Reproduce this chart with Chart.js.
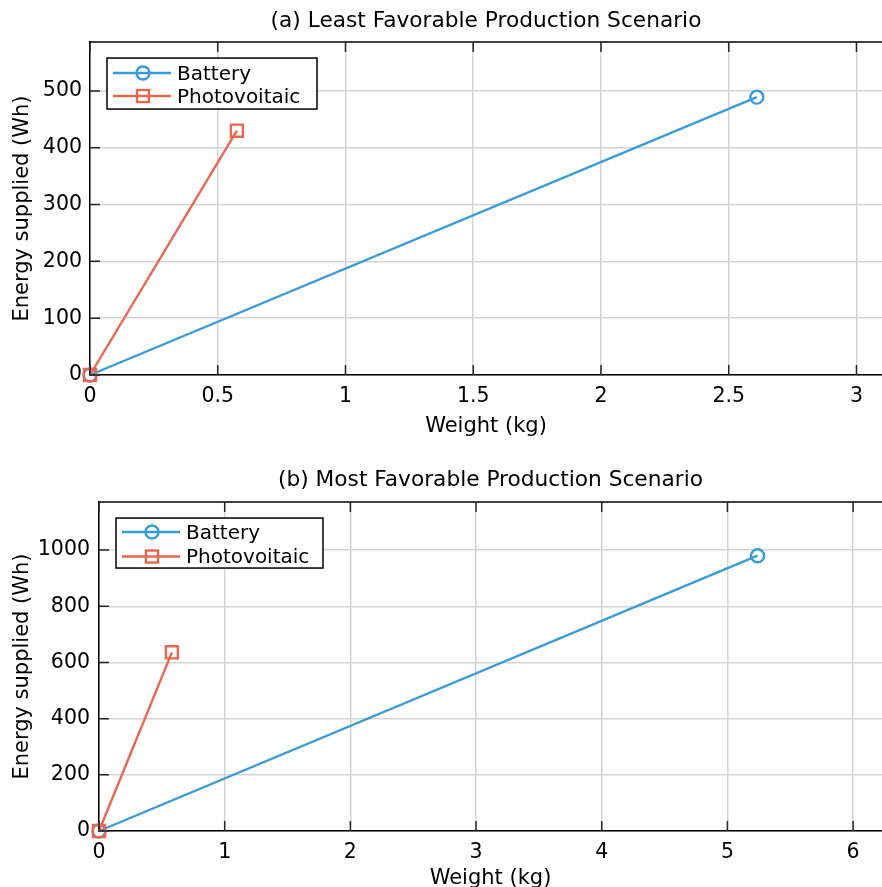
<!DOCTYPE html>
<html><head><meta charset="utf-8">
<script src="https://cdn.jsdelivr.net/npm/chart.js@4/dist/chart.umd.min.js"></script>
<style>
html,body{margin:0;padding:0;overflow:hidden;background:#fff;width:882px;height:887px}
#c1{position:absolute;left:0;top:0}
#c2{position:absolute;left:0;top:450px}
</style></head><body>
<canvas id="c1" width="882" height="450"></canvas>
<canvas id="c2" width="882" height="460"></canvas>
<script>
// ---- data ----
const seriesNames = ['Battery', 'Photovoitaic'];
const panelTitles = ['(a) Least Favorable Production Scenario', '(b) Most Favorable Production Scenario'];
const xLabel = 'Weight (kg)';
const yLabel = 'Energy supplied (Wh)';

// Panel (a)
const aBatteryWeight = [0, 2.61];
const aBatteryEnergy = [0, 489];
const aPvWeight = [0, 0.575];
const aPvEnergy = [0, 430];
const aXTicks = [0, 0.5, 1, 1.5, 2, 2.5, 3];
const aYTicks = [0, 100, 200, 300, 400, 500];

// Panel (b)
const bBatteryWeight = [0, 5.24];
const bBatteryEnergy = [0, 980];
const bPvWeight = [0, 0.58];
const bPvEnergy = [0, 636];
const bXTicks = [0, 1, 2, 3, 4, 5, 6];
const bYTicks = [0, 200, 400, 600, 800, 1000];

// ---- style ----
const BLUE = '#3b9bd5';
const RED = '#e8674f';
const GRID = '#d5d5d5';
const TXT = '#000000';
const FAMILY = "'DejaVu Sans', 'Liberation Sans', sans-serif";

const frameAndTicks = {
  id: 'frameAndTicks',
  afterDatasetsDraw(chart) {
    const ctx = chart.ctx, a = chart.chartArea;
    const xs = chart.scales.x, ys = chart.scales.y;
    ctx.save();
    ctx.strokeStyle = '#000';
    ctx.lineWidth = 1.5;
    ctx.beginPath();
    ctx.moveTo(a.left, a.top); ctx.lineTo(a.right, a.top);
    ctx.stroke();
    ctx.strokeStyle = '#262626';
    ctx.beginPath();
    xs.ticks.forEach(t => {
      const px = xs.getPixelForValue(t.value);
      ctx.moveTo(px, a.bottom); ctx.lineTo(px, a.bottom - 10);
      ctx.moveTo(px, a.top); ctx.lineTo(px, a.top + 10);
    });
    ys.ticks.forEach(t => {
      const py = ys.getPixelForValue(t.value);
      ctx.moveTo(a.left, py); ctx.lineTo(a.left + 10, py);
    });
    ctx.stroke();
    ctx.restore();
  }
};

const boxLegend = {
  id: 'boxLegend',
  afterDraw(chart, args, opts) {
    const ctx = chart.ctx, a = chart.chartArea;
    const L = a.left + opts.dx, T = a.top + opts.dy;
    ctx.save();
    ctx.fillStyle = '#fff';
    ctx.fillRect(L, T, opts.w, opts.h);
    ctx.strokeStyle = '#000';
    ctx.lineWidth = 1.5;
    ctx.strokeRect(L, T, opts.w, opts.h);
    chart.data.datasets.forEach((ds, i) => {
      const y = T + opts.rows[i];
      ctx.strokeStyle = ds.borderColor;
      ctx.lineWidth = ds.borderWidth;
      ctx.beginPath();
      ctx.moveTo(L + 6, y); ctx.lineTo(L + 64, y);
      ctx.stroke();
      const cx = L + 36;
      if (ds.pointStyle === 'rect') {
        const s = ds.pointRadius * Math.SQRT1_2;
        ctx.strokeRect(cx - s, y - s, 2 * s, 2 * s);
      } else {
        ctx.beginPath();
        ctx.arc(cx, y, ds.pointRadius, 0, Math.PI * 2);
        ctx.stroke();
      }
      ctx.fillStyle = TXT;
      ctx.font = '20px ' + FAMILY;
      ctx.textBaseline = 'middle';
      ctx.textAlign = 'left';
      ctx.fillText(ds.label, L + 70, y + 1.5);
    });
    ctx.restore();
  }
};

function makePanel(id, p) {
  const tickFont = {family: FAMILY, size: 20.5, weight: 'normal'};
  const axisFont = {family: FAMILY, size: 21, weight: 'normal'};
  const titleFont = {family: FAMILY, size: 21.7, weight: 'normal'};
  return new Chart(document.getElementById(id), {
    type: 'scatter',
    data: {
      datasets: [
        {
          label: seriesNames[0],
          data: p.bw.map((x, i) => ({x: x, y: p.be[i]})),
          showLine: true, borderColor: BLUE, backgroundColor: 'rgba(0,0,0,0)',
          borderWidth: 2.4, pointStyle: 'circle', pointRadius: 6.5,
          pointBorderWidth: 2.4, pointBorderColor: BLUE, pointBackgroundColor: 'rgba(0,0,0,0)',
          clip: false, order: 1
        },
        {
          label: seriesNames[1],
          data: p.pw.map((x, i) => ({x: x, y: p.pe[i]})),
          showLine: true, borderColor: RED, backgroundColor: 'rgba(0,0,0,0)',
          borderWidth: 2.4, pointStyle: 'rect', pointRadius: 8.5,
          pointBorderWidth: 2.4, pointBorderColor: RED, pointBackgroundColor: 'rgba(0,0,0,0)',
          clip: false, order: 0
        }
      ]
    },
    options: {
      responsive: false,
      animation: false,
      events: [],
      layout: {padding: 0, autoPadding: false},
      plugins: {
        legend: {display: false},
        tooltip: {enabled: false},
        title: {display: true, text: p.title, font: titleFont, color: TXT, fullSize: false,
                padding: {top: p.tPadTop, bottom: p.tPadBottom}},
        boxLegend: p.legend
      },
      scales: {
        x: {
          type: 'linear', min: 0, max: p.xmax,
          afterBuildTicks: s => { s.ticks = p.xticks.map(v => ({value: v})); },
          afterFit: s => { s.height = p.xh; s.paddingRight = 0; s.paddingLeft = 0; },
          ticks: {font: tickFont, color: TXT, padding: p.xTickPad, maxRotation: 0, autoSkip: false,
                  callback: v => String(v)},
          grid: {color: GRID, lineWidth: 1.5, drawTicks: false},
          border: {display: true, color: '#000', width: 1.5},
          title: {display: true, text: xLabel, font: axisFont, color: TXT, padding: {top: 0, bottom: p.xTitlePad}}
        },
        y: {
          type: 'linear', min: 0, max: p.ymax,
          afterBuildTicks: s => { s.ticks = p.yticks.map(v => ({value: v})); },
          afterFit: s => { s.width = p.yw; },
          ticks: {font: tickFont, color: TXT, padding: p.yTickPad, autoSkip: false,
                  callback: v => String(v)},
          grid: {color: GRID, lineWidth: 1.5, drawTicks: false},
          border: {display: true, color: '#000', width: 1.5},
          title: {display: true, text: yLabel, font: axisFont, color: TXT, padding: {top: 9.5, bottom: 0}}
        }
      }
    },
    plugins: [frameAndTicks, boxLegend]
  });
}

makePanel('c1', {
  title: panelTitles[0], bw: aBatteryWeight, be: aBatteryEnergy, pw: aPvWeight, pe: aPvEnergy,
  xticks: aXTicks, yticks: aYTicks, xmax: 3.1, ymax: 586,
  tPadTop: 8, tPadBottom: 8, xh: 75, yw: 90, xTickPad: 9, yTickPad: 8, xTitlePad: 10.5,
  legend: {dx: 17, dy: 16, w: 210, h: 51, rows: [15, 38]}
});
makePanel('c2', {
  title: panelTitles[1], bw: bBatteryWeight, be: bBatteryEnergy, pw: bPvWeight, pe: bPvEnergy,
  xticks: bXTicks, yticks: bYTicks, xmax: 6.23, ymax: 1171,
  tPadTop: 17.7, tPadBottom: 8.3, xh: 79, yw: 99, xTickPad: 9.5, yTickPad: 9, xTitlePad: 18.5,
  legend: {dx: 17, dy: 16, w: 207, h: 50, rows: [14, 38.5]}
});
</script>
</body></html>
